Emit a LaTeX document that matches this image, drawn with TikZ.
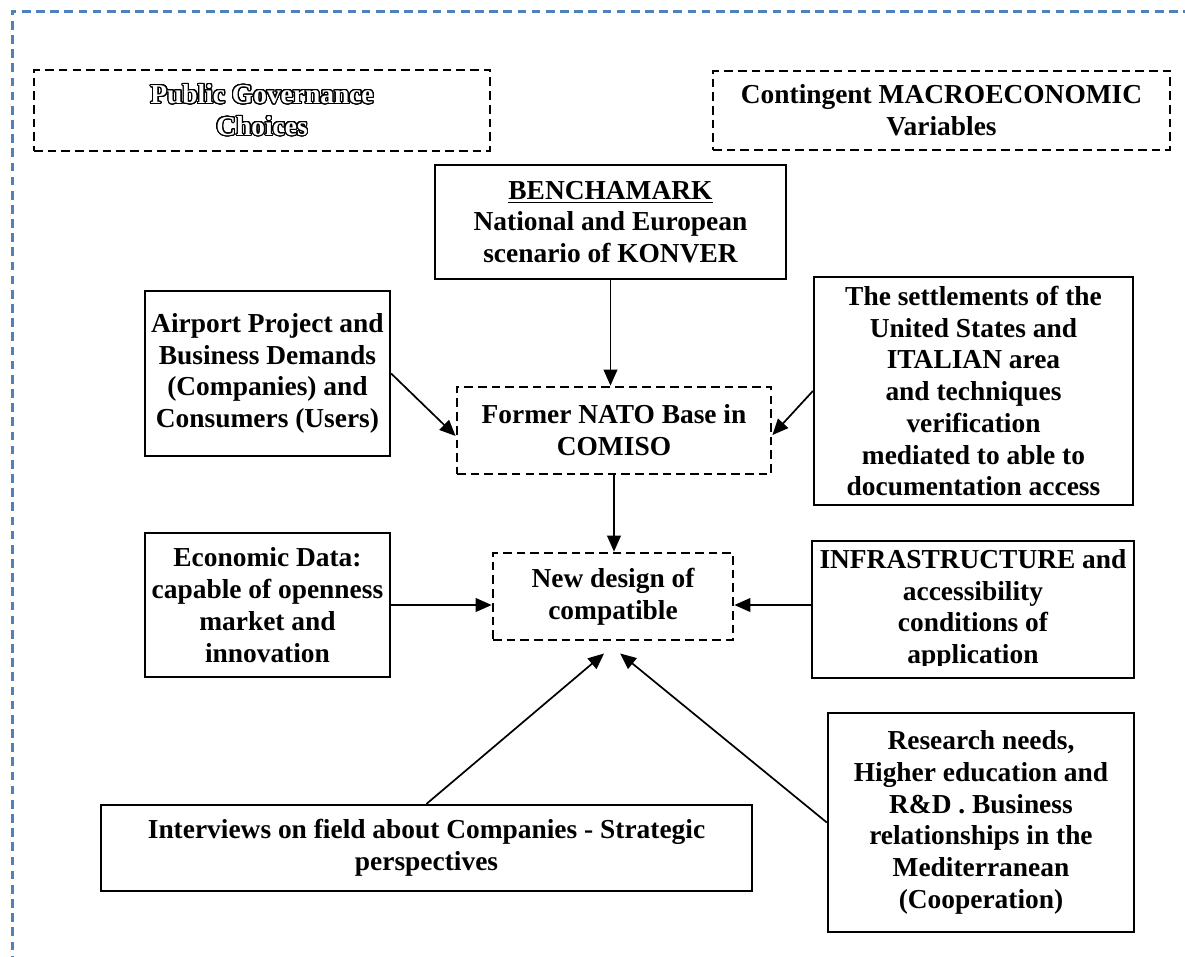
\documentclass[tikz,border=0pt]{standalone}
\usepackage{fontspec}
\setmainfont{Liberation Serif}
\usepackage{contour}
\usetikzlibrary{arrows.meta}
\definecolor{frameblue}{RGB}{79,129,189}
\contourlength{0.5pt}
\contournumber{32}
\newcommand{\hollow}[1]{\contour{black}{\textcolor{white}{#1}}}
\tikzset{
	boxtext/.style={font=\bfseries\fontsize{12}{13.9}\selectfont, align=center, inner sep=0pt},
	solidbox/.style={boxtext, draw, line width=1pt},
	dashbox/.style={boxtext, draw, line width=1.2pt, dash pattern=on 3.8pt off 2.2pt},
	arr/.style={line width=0.75pt, -{Triangle[length=7pt,width=6pt]}},
	frameline/.style={frameblue, line width=1.3pt, dash pattern=on 3.8pt off 2.4pt}
}

\begin{document}
\begin{tikzpicture}
			\useasboundingbox(0, 0) rectangle (18.231, 14.708);
			\draw[frameline](0.185, -1) |- (19, 14.538);

			% top row
			\node[dashbox, minimum width=7.015cm, minimum height=1.246cm](gov) at(4.031, 13.008){\hollow{Public Governance}\\\hollow{Choices}};
			\node[dashbox, minimum width=7.031cm, minimum height=1.215cm](macro) at(14.485, 13.008){Contingent MACROECONOMIC\\Variables};
			\node[solidbox, minimum width=5.4cm, minimum height=1.754cm](bench) at(9.392, 11.292){\underline{BENCHAMARK}\\National and European\\scenario of KONVER};

			% middle row
			\node[solidbox, minimum width=3.769cm, minimum height=2.538cm](airport) at(4.115, 8.962){Airport Project and\\Business Demands\\(Companies) and\\Consumers (Users)};
			\node[dashbox, minimum width=4.831cm, minimum height=1.338cm](nato) at(9.446, 8.085){Former NATO Base in\\COMISO};
			\node[solidbox, minimum width=4.908cm, minimum height=3.508cm](settle) at(14.977, 8.692){The settlements of the\\United States and\\ITALIAN area\\and techniques\\verification\\mediated to able to\\documentation access};

			\node[solidbox, minimum width=3.769cm, minimum height=2.215cm](econ) at(4.115, 5.4){Economic Data:\\capable of openness\\market and\\innovation};
			\node[dashbox, minimum width=3.692cm, minimum height=1.338cm](newd) at(9.431, 5.531){New design of\\compatible};
			\begin{scope}
				\clip(12.49, 4.47) rectangle (17.45, 6.4);
				\node[boxtext] at(14.969, 5.331){INFRASTRUCTURE and\\accessibility\\conditions of\\application};
			\end{scope}
			\node[solidbox, minimum width=4.954cm, minimum height=2.108cm](infra) at(14.969, 5.331){};

			% bottom row
			\node[solidbox, minimum width=10.015cm, minimum height=1.323cm](interv) at(6.562, 1.662){Interviews on field about Companies - Strategic\\perspectives};
			\node[solidbox, minimum width=4.708cm, minimum height=3.369cm](research) at(15.092, 2.054){Research needs,\\Higher education and\\R\&D . Business\\relationships in the\\Mediterranean\\(Cooperation)};

			\coordinate(tipl) at([xshift=-3.9pt, yshift=-5.3pt]newd.south);
			\coordinate(tipr) at([xshift=3.1pt, yshift=-5.3pt]newd.south);

			\draw[arr](bench.south) to (bench.south |- nato.north);
			\draw[arr](airport.east) to ([yshift=-2.4pt]nato.west);
			\draw[arr](settle.west) to ([yshift=-2pt]nato.east);
			\draw[arr](nato.south) to (nato.south |- newd.north);
			\draw[arr](econ.east) to (econ.east -| newd.west);
			\draw[arr](infra.west |- econ.east) to (econ.east -| newd.east);
			\draw[arr](interv.north) to (tipl);
			\draw[arr](research.west) to (tipr);
		\end{tikzpicture}
\end{document}
